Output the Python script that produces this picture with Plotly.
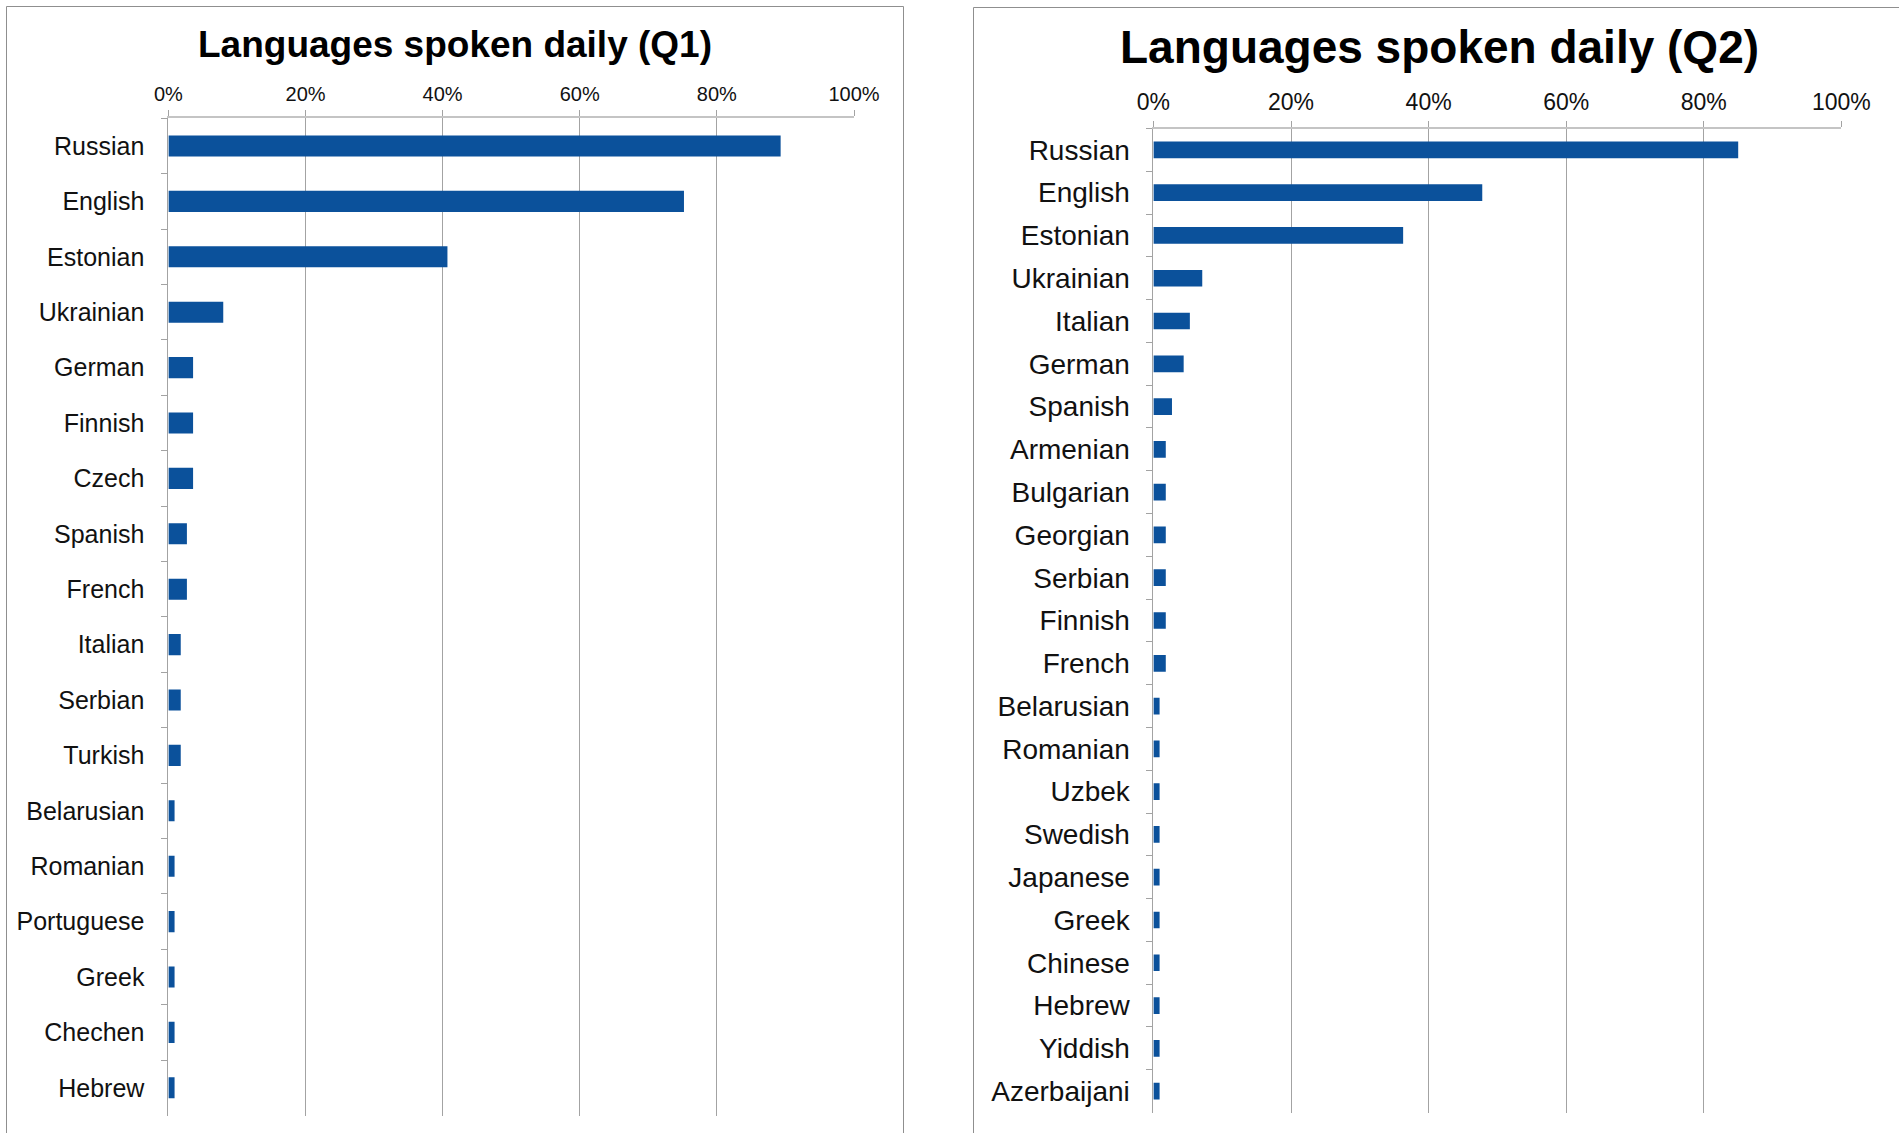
import plotly.graph_objects as go

# Survey results: share of respondents speaking each language daily (%)
q1_languages = ["Russian", "English", "Estonian", "Ukrainian", "German", "Finnish",
                "Czech", "Spanish", "French", "Italian", "Serbian", "Turkish",
                "Belarusian", "Romanian", "Portuguese", "Greek", "Chechen", "Hebrew"]
q1_share = [89.3, 75.2, 40.7, 8.0, 3.6, 3.6, 3.6, 2.7, 2.7, 1.8, 1.8, 1.8,
            0.9, 0.9, 0.9, 0.9, 0.9, 0.9]

q2_languages = ["Russian", "English", "Estonian", "Ukrainian", "Italian", "German",
                "Spanish", "Armenian", "Bulgarian", "Georgian", "Serbian", "Finnish",
                "French", "Belarusian", "Romanian", "Uzbek", "Swedish", "Japanese",
                "Greek", "Chinese", "Hebrew", "Yiddish", "Azerbaijani"]
q2_share = [85.0, 47.8, 36.3, 7.1, 5.3, 4.4, 2.7, 1.8, 1.8, 1.8, 1.8, 1.8, 1.8,
            0.9, 0.9, 0.9, 0.9, 0.9, 0.9, 0.9, 0.9, 0.9, 0.9]

pct_ticks = [0, 20, 40, 60, 80, 100]
pct_labels = ["0%", "20%", "40%", "60%", "80%", "100%"]
titles = ["Languages spoken daily (Q1)", "Languages spoken daily (Q2)"]

W, H = 1899, 1133
BAR = "#0B519B"
GRID = "#a3a3a3"
AXLINE = "#c4c4c4"
FONT = "Liberation Sans, Arial, sans-serif"


def px_x(v):
    return v / W


def px_y(v):
    return 1 - v / H


fig = go.Figure()
fig.add_trace(go.Bar(x=q1_share, y=q1_languages, orientation="h", width=0.38,
                     marker=dict(color=BAR, line=dict(width=0)),
                     xaxis="x", yaxis="y", showlegend=False))
fig.add_trace(go.Bar(x=q2_share, y=q2_languages, orientation="h", width=0.39,
                     marker=dict(color=BAR, line=dict(width=0)),
                     xaxis="x2", yaxis="y2", showlegend=False))


def xaxis(domain, anchor, size, standoff):
    return dict(domain=domain, anchor=anchor, side="top", range=[0, 100],
                tickmode="array", tickvals=pct_ticks, ticktext=pct_labels,
                showgrid=True, gridcolor=GRID, gridwidth=1, zeroline=False,
                showline=True, linecolor=AXLINE, linewidth=2,
                ticks="outside", ticklen=6, tickcolor=GRID,
                ticklabelstandoff=standoff, automargin=False,
                tickfont=dict(family=FONT, size=size, color="#111111"),
                fixedrange=True)


def yaxis(domain, anchor, cats, size, standoff):
    return dict(domain=domain, anchor=anchor, type="category",
                categoryorder="array", categoryarray=cats,
                range=[len(cats) - 0.5, -0.5], showgrid=False, zeroline=False,
                showline=True, linecolor=GRID, linewidth=1,
                ticks="outside", tickson="boundaries", ticklen=6, tickcolor=GRID,
                ticklabelstandoff=standoff, automargin=False,
                tickfont=dict(family=FONT, size=size, color="#111111"),
                fixedrange=True)


fig.update_layout(
    width=W, height=H,
    margin=dict(l=0, r=0, t=0, b=0, autoexpand=False),
    paper_bgcolor="white", plot_bgcolor="white",
    bargap=0.6,
    xaxis=xaxis([px_x(168.4), px_x(854.0)], "y", 20, 1),
    yaxis=yaxis([px_y(1115.5), px_y(118.3)], "x", q1_languages, 25, 18),
    xaxis2=xaxis([px_x(1153.4), px_x(1841.4)], "y2", 23, 1),
    yaxis2=yaxis([px_y(1112.5), px_y(128.5)], "x2", q2_languages, 28, 17),
)

# Chart titles
fig.add_annotation(text="<b>%s</b>" % titles[0], x=px_x(455), y=px_y(45),
                   xref="paper", yref="paper", xanchor="center", yanchor="middle",
                   showarrow=False, font=dict(family=FONT, size=37, color="#000000"))
fig.add_annotation(text="<b>%s</b>" % titles[1], x=px_x(1439), y=px_y(47),
                   xref="paper", yref="paper", xanchor="center", yanchor="middle",
                   showarrow=False, font=dict(family=FONT, size=46, color="#000000"))

# Chart-area frames
fig.add_shape(type="rect", xref="paper", yref="paper",
              x0=px_x(6.5), x1=px_x(903.5), y0=px_y(1150), y1=px_y(6.5),
              line=dict(color="#8f8f8f", width=1), fillcolor="rgba(0,0,0,0)")
fig.add_shape(type="rect", xref="paper", yref="paper",
              x0=px_x(973.5), x1=px_x(1920), y0=px_y(1150), y1=px_y(7.5),
              line=dict(color="#8f8f8f", width=1), fillcolor="rgba(0,0,0,0)")

fig.write_html("out.html")
